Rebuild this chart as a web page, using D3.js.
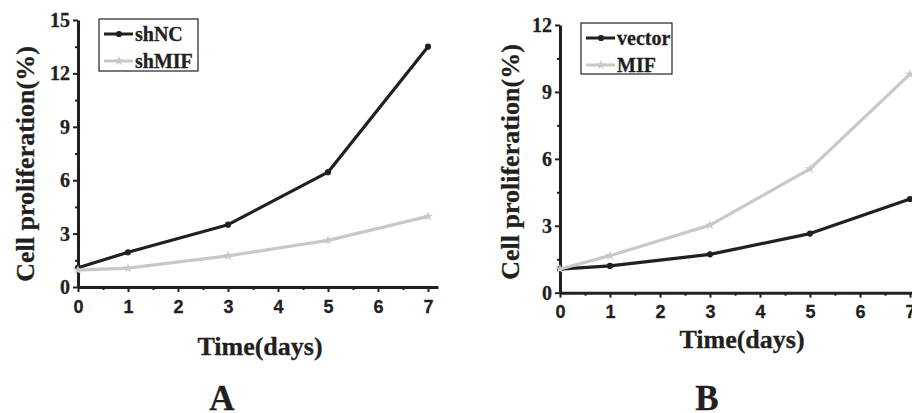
<!DOCTYPE html>
<html>
<head>
<meta charset="utf-8">
<script src="https://cdn.jsdelivr.net/npm/d3@7"></script>
<style>
  body { margin: 0; background: #fff; }
  svg { display: block; }
  .serif { font-family: "Liberation Serif", "Times New Roman", serif; font-weight: bold; fill: #231f20; stroke: #231f20; stroke-width: 0.3; }
  .sans { font-family: "Liberation Sans", Arial, sans-serif; font-weight: bold; fill: #231f20; stroke: #231f20; stroke-width: 0.3; }
</style>
</head>
<body>
<svg id="chart" width="912" height="413"></svg>
<script>
// shared x values (days)
const days = [0, 1, 3, 5, 7];
const dayTicks = [0, 1, 2, 3, 4, 5, 6, 7];

// panel A
const shNC = [1.08, 1.95, 3.5, 6.45, 13.5];
const shMIF = [0.95, 1.06, 1.75, 2.62, 3.97];
const ticksA = [0, 3, 6, 9, 12, 15];

// panel B
const vector = [1.06, 1.2, 1.72, 2.65, 4.2];
const mif = [1.06, 1.66, 3.03, 5.55, 9.8];
const ticksB = [0, 3, 6, 9, 12];

const black = '#231f20';
const gray = '#c8c8c8';

const svg = d3.select('#chart');

function drawPanel(cfg) {
  const g = svg.append('g');

  const x = d3.scaleLinear().domain([0, 7.2]).range([cfg.left, cfg.left + 360]);
  const y = d3.scaleLinear().domain([0, cfg.yMax]).range([cfg.bottom, cfg.top]);

  // minor ticks
  const xMinor = d3.range(0.5, 7.2, 1);
  const yMinor = d3.range(1.5, cfg.yMax, 3);

  g.append('g')
    .attr('transform', `translate(0,${cfg.bottom})`)
    .call(d3.axisBottom(x).tickValues(xMinor).tickSize(3).tickFormat(''))
    .call(a => a.select('.domain').remove())
    .selectAll('line').attr('stroke', black).attr('stroke-width', 2);

  g.append('g')
    .attr('transform', `translate(${cfg.left},0)`)
    .call(d3.axisLeft(y).tickValues(yMinor).tickSize(3).tickFormat(''))
    .call(a => a.select('.domain').remove())
    .selectAll('line').attr('stroke', black).attr('stroke-width', 2);

  // x axis
  const xAxis = g.append('g')
    .attr('transform', `translate(0,${cfg.bottom})`)
    .call(d3.axisBottom(x).tickValues(dayTicks).tickSize(5).tickPadding(8).tickSizeOuter(0));
  xAxis.select('.domain').attr('stroke', black).attr('stroke-width', 3);
  xAxis.selectAll('.tick line').attr('stroke', black).attr('stroke-width', 2);
  xAxis.selectAll('text').attr('class', 'sans').attr('font-size', 18);

  // y axis
  const yAxis = g.append('g')
    .attr('transform', `translate(${cfg.left},0)`)
    .call(d3.axisLeft(y).tickValues(cfg.yTicks).tickSize(5).tickPadding(3).tickSizeOuter(0));
  yAxis.select('.domain').attr('stroke', black).attr('stroke-width', 3);
  yAxis.selectAll('.tick line').attr('stroke', black).attr('stroke-width', 2);
  yAxis.selectAll('text').attr('class', 'serif').attr('font-size', 20);

  const line = d3.line().x((d, i) => x(days[i])).y(d => y(d));

  cfg.series.forEach(s => {
    g.append('path')
      .datum(s.values)
      .attr('d', line)
      .attr('fill', 'none')
      .attr('stroke', s.color)
      .attr('stroke-width', 3.2)
      .attr('stroke-linejoin', 'round');

    g.selectAll(null)
      .data(s.values)
      .enter()
      .append('path')
      .attr('transform', (d, i) => `translate(${x(days[i])},${y(d)})`)
      .attr('d', d3.symbol().type(s.symbol).size(s.symbol === d3.symbolStar ? 30 : 30))
      .attr('fill', s.color);
  });

  // legend
  const lg = g.append('g');
  lg.append('rect')
    .attr('x', cfg.legend.x).attr('y', cfg.legend.y)
    .attr('width', cfg.legend.w).attr('height', cfg.legend.h)
    .attr('fill', '#fff').attr('stroke', black).attr('stroke-width', 1.2);

  cfg.series.forEach((s, i) => {
    const ly = cfg.legend.y + 15 + i * 27;
    const lx = cfg.legend.x + 5;
    lg.append('line')
      .attr('x1', lx).attr('x2', lx + 29)
      .attr('y1', ly).attr('y2', ly)
      .attr('stroke', s.color).attr('stroke-width', 3);
    lg.append('path')
      .attr('transform', `translate(${lx + 15},${ly})`)
      .attr('d', d3.symbol().type(s.symbol).size(30))
      .attr('fill', s.color);
    lg.append('text')
      .attr('class', 'serif')
      .attr('x', lx + 31).attr('y', ly + 7)
      .attr('font-size', 20)
      .text(s.name);
  });

  // axis titles
  g.append('text')
    .attr('class', 'serif')
    .attr('font-size', 26)
    .attr('text-anchor', 'middle')
    .attr('transform', `translate(${cfg.yLabelX},${cfg.yLabelY}) rotate(-90)`)
    .text('Cell proliferation(%)');

  g.append('text')
    .attr('class', 'serif')
    .attr('font-size', 26)
    .attr('text-anchor', 'middle')
    .attr('x', cfg.xLabelX).attr('y', cfg.xLabelY)
    .text('Time(days)');

  g.append('text')
    .attr('class', 'serif')
    .attr('font-size', 35)
    .attr('text-anchor', 'middle')
    .attr('x', cfg.letterX).attr('y', 410)
    .text(cfg.letter);
}

drawPanel({
  left: 78, top: 20, bottom: 287, yMax: 15, yTicks: ticksA,
  series: [
    { name: 'shNC', values: shNC, color: black, symbol: d3.symbolCircle },
    { name: 'shMIF', values: shMIF, color: gray, symbol: d3.symbolStar }
  ],
  legend: { x: 99, y: 19, w: 99, h: 52 },
  yLabelX: 34, yLabelY: 164,
  xLabelX: 260, xLabelY: 355,
  letter: 'A', letterX: 222
});

drawPanel({
  left: 560, top: 25, bottom: 292.7, yMax: 12, yTicks: ticksB,
  series: [
    { name: 'vector', values: vector, color: black, symbol: d3.symbolCircle },
    { name: 'MIF', values: mif, color: gray, symbol: d3.symbolStar }
  ],
  legend: { x: 581, y: 23, w: 91, h: 51 },
  yLabelX: 519, yLabelY: 162,
  xLabelX: 742, xLabelY: 348,
  letter: 'B', letterX: 707
});
</script>
</body>
</html>
